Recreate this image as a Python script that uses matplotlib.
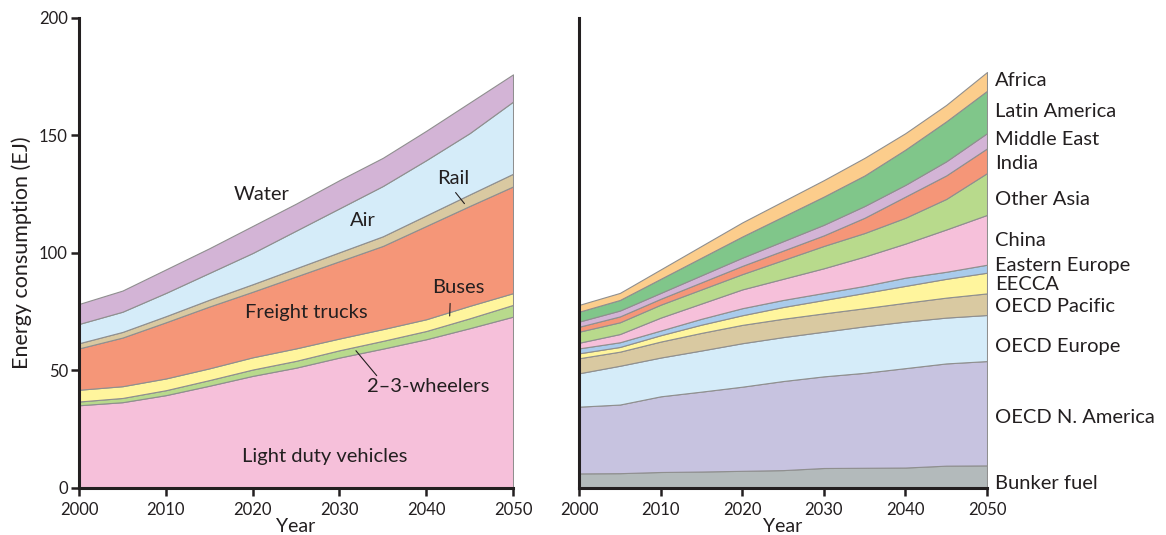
import numpy as np
import matplotlib.pyplot as plt

plt.rcParams['font.family'] = ['Lato', 'DejaVu Sans']

# ---- data (EJ per layer) ----
years = [2000, 2005, 2010, 2015, 2020, 2025, 2030, 2035, 2040, 2045, 2050]

# left: by mode
ldv      = [35.2, 36.5, 39.5, 43.5, 47.7, 51.2, 55.5, 59.3, 63.3, 68.0, 72.9]
wheelers = [1.6, 1.8, 2.1, 2.4, 2.7, 2.9, 3.1, 3.3, 3.5, 4.2, 5.0]
buses    = [5.0, 5.0, 5.0, 5.0, 5.2, 5.3, 5.0, 5.0, 5.0, 5.3, 5.0]
freight  = [17.6, 20.7, 23.9, 26.3, 27.9, 30.6, 32.9, 35.4, 39.7, 42.5, 45.4]
rail     = [2.2, 2.4, 2.6, 2.9, 3.2, 3.5, 3.8, 4.1, 4.5, 4.9, 5.4]
air      = [8.2, 8.6, 9.9, 11.4, 13.3, 16.0, 18.7, 21.4, 23.5, 26.1, 30.7]
water    = [8.5, 9.0, 10.0, 10.5, 11.5, 11.5, 12.0, 12.0, 12.5, 13.0, 11.6]
mode_colors = ['#f6c0da', '#b8da8c', '#fff59d', '#f59678', '#d9c9a1', '#d5ecf9', '#d3b4d6']

# right: by region
bunker   = [6.2, 6.3, 6.8, 7.0, 7.3, 7.6, 8.5, 8.6, 8.7, 9.5, 9.6]
oecd_na  = [28.4, 29.2, 32.2, 34.0, 35.8, 37.9, 39.0, 40.4, 42.3, 43.5, 44.4]
oecd_eu  = [14.2, 16.5, 16.5, 17.5, 18.5, 18.7, 19.0, 19.8, 19.8, 19.5, 19.6]
oecd_pac = [6.4, 6.0, 6.8, 7.5, 7.8, 7.8, 7.8, 7.7, 8.0, 8.5, 9.2]
eecca    = [2.1, 2.0, 2.7, 3.5, 4.1, 5.0, 5.7, 6.5, 7.2, 8.0, 8.8]
east_eu  = [2.1, 2.0, 2.0, 2.5, 3.0, 3.0, 3.0, 3.0, 3.5, 3.0, 3.4]
china    = [2.4, 3.5, 5.5, 6.5, 8.0, 9.0, 10.5, 12.5, 14.5, 18.0, 21.2]
oth_asia = [4.7, 5.0, 5.5, 6.0, 6.5, 8.0, 9.5, 10.0, 11.0, 13.0, 17.8]
india    = [2.1, 2.5, 2.5, 3.0, 3.5, 4.0, 4.5, 6.5, 9.0, 10.0, 10.5]
mid_east = [2.2, 2.5, 2.5, 3.0, 3.5, 4.0, 4.5, 5.0, 5.0, 6.0, 6.5]
lat_am   = [4.2, 4.5, 6.0, 7.5, 9.0, 10.5, 12.0, 13.0, 15.0, 17.0, 18.0]
africa   = [2.9, 3.0, 4.0, 5.0, 6.0, 6.5, 7.0, 7.5, 7.0, 7.0, 8.0]
region_names = ['Bunker fuel', 'OECD N. America', 'OECD Europe', 'OECD Pacific', 'EECCA',
                'Eastern Europe', 'China', 'Other Asia', 'India', 'Middle East',
                'Latin America', 'Africa']
region_colors = ['#b3babb', '#c7c3e0', '#d5ecf9', '#d9c9a1', '#fff59d', '#a9cbec',
                 '#f6c0da', '#b8da8c', '#f59678', '#d3b4d6', '#80c68a', '#fccd8c']
# label y positions (EJ) beside the right panel
region_label_y = [2.1, 30.2, 60.4, 77.4, 86.4, 94.5, 105.1, 122.6, 137.9, 148.1, 160.0, 173.6]

txt = '#231f20'
edge = '#8f8f8f'

fig = plt.figure(figsize=(11.66, 5.35), dpi=100)
axL = fig.add_axes([0.0678, 0.0879, 0.3722, 0.8785])
axR = fig.add_axes([0.4966, 0.0879, 0.3499, 0.8785])

axL.stackplot(years, ldv, wheelers, buses, freight, rail, air, water,
              colors=mode_colors, edgecolor=edge, linewidth=0.8)
regions = [bunker, oecd_na, oecd_eu, oecd_pac, eecca, east_eu, china, oth_asia,
           india, mid_east, lat_am, africa]
axR.stackplot(years, *regions, colors=region_colors, edgecolor=edge, linewidth=0.8)

for ax in (axL, axR):
    ax.set_xlim(2000, 2050)
    ax.set_ylim(0, 200)
    for s in ('top', 'right'):
        ax.spines[s].set_visible(False)
    for s in ('left', 'bottom'):
        ax.spines[s].set_linewidth(2.2)
        ax.spines[s].set_color(txt)
    ax.set_xticks(range(2000, 2051, 10))
    ax.tick_params(axis='both', direction='out', length=6, width=1.8,
                   labelsize=12, colors=txt, pad=2)
    ax.tick_params(axis='x', pad=4)
    ax.set_xlabel('Year', fontsize=14, color=txt, labelpad=0)

axL.set_yticks(range(0, 201, 50))
axL.set_ylabel('Energy consumption (EJ)', fontsize=15.5, color=txt, labelpad=5)
axR.set_yticks([])

# labels on the left panel
fs = 14.5
axL.text(2021, 124.7, 'Water', fontsize=fs, color=txt, ha='center', va='center')
axL.text(2032.7, 114, 'Air', fontsize=fs, color=txt, ha='center', va='center')
axL.text(2026.2, 74.5, 'Freight trucks', fontsize=fs, color=txt, ha='center', va='center')
axL.text(2028.3, 13.2, 'Light duty vehicles', fontsize=fs, color=txt, ha='center', va='center')
axL.annotate('Rail', xy=(2044.4, 121.0), xytext=(2043.1, 131.9), fontsize=fs, color=txt,
             ha='center', va='center',
             arrowprops=dict(arrowstyle='-', color=txt, lw=0.8, shrinkA=3, shrinkB=0,
                             relpos=(0.3, 0.3)))
axL.annotate('Buses', xy=(2042.7, 73.2), xytext=(2043.7, 85.1), fontsize=fs, color=txt,
             ha='center', va='center',
             arrowprops=dict(arrowstyle='-', color=txt, lw=0.8, shrinkA=3, shrinkB=0,
                             relpos=(0.35, 0.2)))
axL.annotate('2\u20133-wheelers', xy=(2031.9, 58.4), xytext=(2040.2, 43), fontsize=fs,
             color=txt, ha='center', va='center',
             arrowprops=dict(arrowstyle='-', color=txt, lw=0.8, shrinkA=0, shrinkB=0,
                             relpos=(0.1, 1.0)))

for name, y in zip(region_names, region_label_y):
    axR.text(2051, y, name, fontsize=fs, color=txt, ha='left', va='center', clip_on=False)

fig.savefig('out.png', dpi=100)
